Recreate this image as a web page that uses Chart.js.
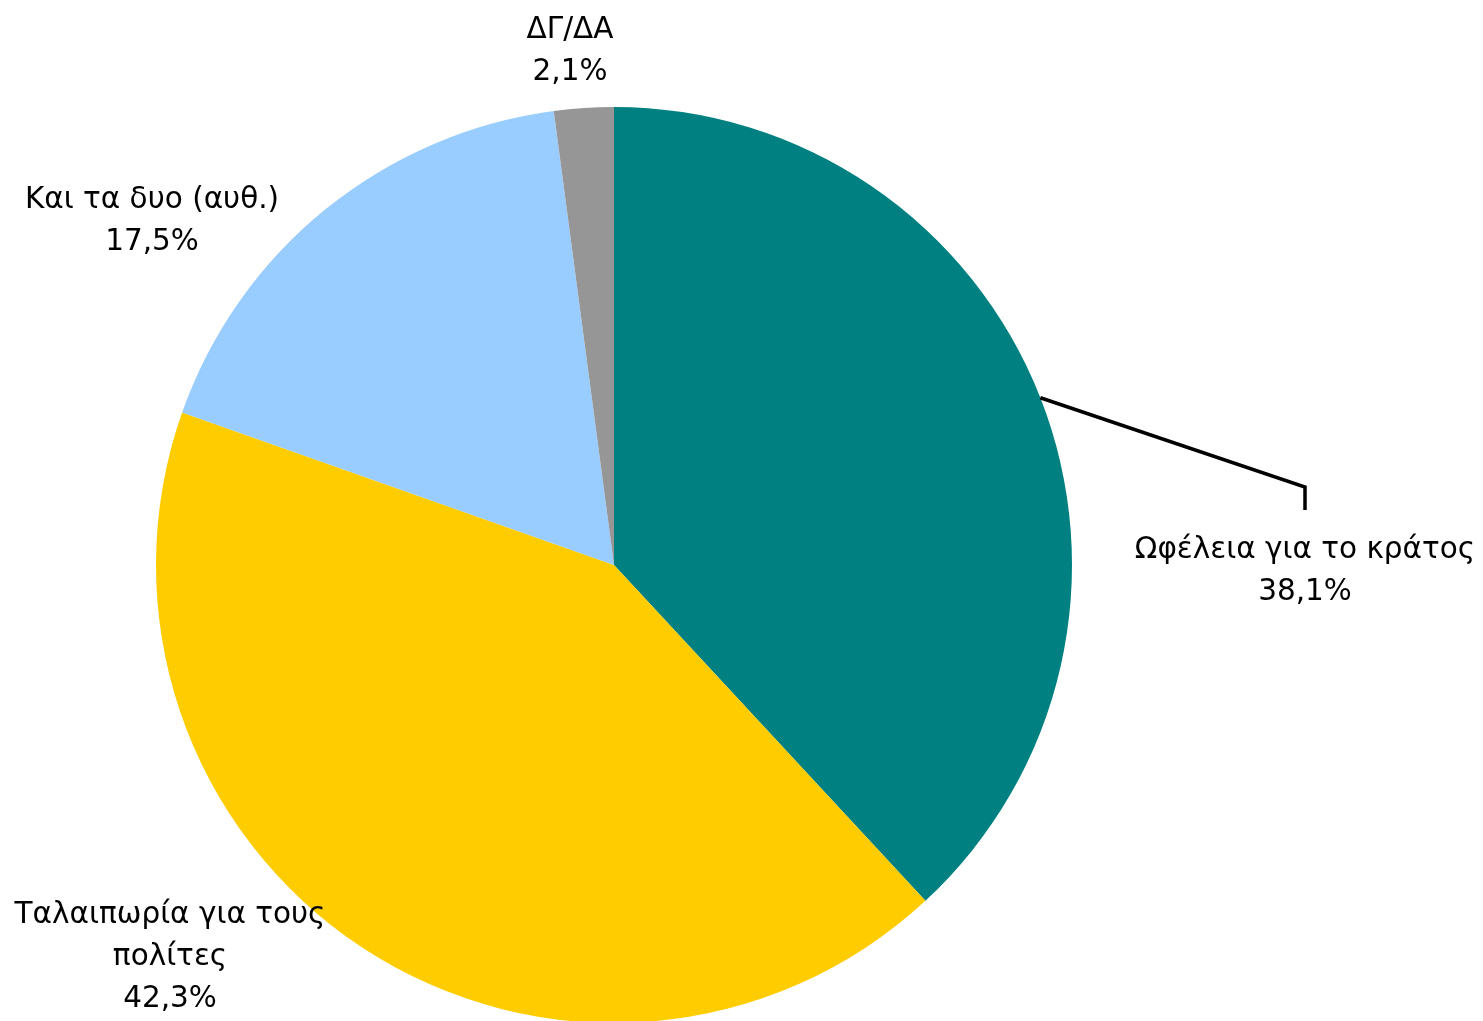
<!DOCTYPE html>
<html>
<head>
<meta charset="utf-8">
<script src="https://cdn.jsdelivr.net/npm/chart.js@4.4.1/dist/chart.umd.min.js"></script>
<style>
html,body{margin:0;padding:0;background:#fff;overflow:hidden;}
#wrap{position:relative;width:1483px;height:1025px;}
</style>
</head>
<body>
<div id="wrap"><canvas id="c"></canvas></div>
<script>
const categories = ["Ωφέλεια για το κράτος", "Ταλαιπωρία για τους πολίτες", "Και τα δυο (αυθ.)", "ΔΓ/ΔΑ"];
const labelLines = [["Ωφέλεια για το κράτος"], ["Ταλαιπωρία για τους", "πολίτες"], ["Και τα δυο (αυθ.)"], ["ΔΓ/ΔΑ"]];
const values = [38.1, 42.3, 17.5, 2.1];
const valueLabels = ["38,1%", "42,3%", "17,5%", "2,1%"];
const colors = ["#008080", "#FFCC00", "#99CCFF", "#969696"];

// label anchor positions (centre of first line), in canvas pixels
const labelAnchors = [{x:1305,y:550},{x:170,y:915},{x:152,y:200},{x:570,y:30}];

const labelPlugin = {
  id: 'pieLabels',
  afterDatasetsDraw(chart) {
    const ctx = chart.ctx;
    const meta = chart.getDatasetMeta(0);
    ctx.save();
    ctx.font = '29.5px "DejaVu Sans"';
    ctx.fillStyle = '#000';
    ctx.textAlign = 'center';
    ctx.textBaseline = 'middle';
    meta.data.forEach((arc, i) => {
      const a = labelAnchors[i];
      const lines = labelLines[i].concat([valueLabels[i]]);
      lines.forEach((t, k) => ctx.fillText(t, a.x, a.y + k * 42));
      if (i === 0) {
        const mid = (arc.startAngle + arc.endAngle) / 2;
        const sx = arc.x + Math.cos(mid) * arc.outerRadius;
        const sy = arc.y + Math.sin(mid) * arc.outerRadius;
        ctx.beginPath();
        ctx.lineWidth = 3.5;
        ctx.strokeStyle = '#000';
        ctx.lineJoin = 'miter';
        ctx.moveTo(sx, sy);
        ctx.lineTo(a.x, a.y - 63);
        ctx.lineTo(a.x, a.y - 40);
        ctx.stroke();
      }
    });
    ctx.restore();
  }
};

new Chart(document.getElementById('c'), {
  type: 'pie',
  data: {
    labels: categories,
    datasets: [{
      data: values,
      backgroundColor: colors,
      borderWidth: 0
    }]
  },
  options: {
    responsive: true,
    maintainAspectRatio: false,
    animation: false,
    layout: { padding: { left: 156, right: 411, top: 107, bottom: 2 } },
    plugins: { legend: { display: false }, tooltip: { enabled: false } }
  },
  plugins: [labelPlugin]
});
</script>
</body>
</html>
